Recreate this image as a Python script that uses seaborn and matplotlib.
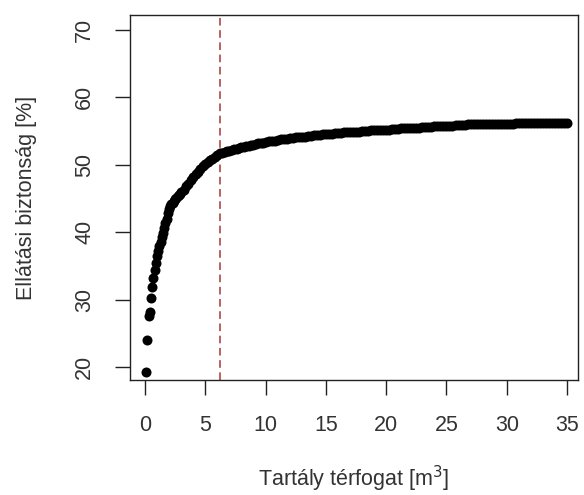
import numpy as np
import pandas as pd
import matplotlib
matplotlib.use("Agg")
import matplotlib.pyplot as plt
import seaborn as sns

# tank volume grid [m3] (three sampling steps) and supply security [%]
x_seg1 = np.round(np.arange(0.1, 3.01, 0.1), 2)     # 0.1 .. 3.0
x_seg2 = np.round(np.arange(3.2, 10.01, 0.2), 2)    # 3.2 .. 10.0
x_seg3 = np.round(np.arange(10.25, 35.01, 0.25), 2)  # 10.25 .. 35.0

y_seg1 = [19.3, 24.0, 27.6, 28.2, 30.2, 31.9, 33.2, 34.4, 35.5, 36.4,
          37.2, 37.9, 38.6, 39.3, 39.9, 40.6, 41.3, 42.0, 42.8, 43.4,
          43.9, 44.2, 44.4, 44.7, 44.9, 45.1, 45.3, 45.5, 45.7, 45.9]
y_seg2 = [46.3, 46.8, 47.2, 47.7, 48.2, 48.6, 49.0, 49.4, 49.8, 50.1,
          50.4, 50.7, 50.9, 51.2, 51.5, 51.7, 51.8, 51.9, 52.0, 52.1,
          52.2, 52.3, 52.4, 52.5, 52.6, 52.7, 52.8, 52.8, 52.9, 53.0,
          53.1, 53.2, 53.2, 53.3, 53.4]
y_seg3 = [53.5, 53.6, 53.6, 53.7, 53.8, 53.8, 53.9, 54.0, 54.0, 54.1,
          54.1, 54.2, 54.2, 54.3, 54.3, 54.4, 54.4, 54.4, 54.5, 54.5,
          54.6, 54.6, 54.7, 54.7, 54.7, 54.8, 54.8, 54.8, 54.9, 54.9,
          54.9, 55.0, 55.0, 55.0, 55.1, 55.1, 55.1, 55.2, 55.2, 55.2,
          55.2, 55.3, 55.3, 55.3, 55.4, 55.4, 55.4, 55.4, 55.5, 55.5,
          55.5, 55.6, 55.6, 55.6, 55.6, 55.7, 55.7, 55.7, 55.8, 55.8,
          55.8, 55.8, 55.9, 55.9, 55.9, 55.9, 56.0, 56.0, 56.0, 56.0,
          56.0, 56.0, 56.1, 56.1, 56.1, 56.1, 56.1, 56.1, 56.1, 56.1,
          56.1, 56.1, 56.2, 56.2, 56.2, 56.2, 56.2, 56.2, 56.2, 56.2,
          56.2, 56.2, 56.2, 56.2, 56.2, 56.2, 56.2, 56.2, 56.2, 56.2]

optimum_volume = 6.2
x_ticks = [0, 5, 10, 15, 20, 25, 30, 35]
y_ticks = [20, 30, 40, 50, 60, 70]

df = pd.DataFrame({
    "volume": np.concatenate([x_seg1, x_seg2, x_seg3]),
    "security": y_seg1 + y_seg2 + y_seg3,
})

sns.set_style("ticks")
plt.rcParams["font.family"] = ["Liberation Sans", "DejaVu Sans"]

fig = plt.figure(figsize=(5.84, 4.95), dpi=100)
ax = fig.add_axes([0.2226, 0.2323, 0.7676, 0.7374])

sns.scatterplot(data=df, x="volume", y="security", color="black",
                s=52, linewidth=0, ax=ax, zorder=3)
ax.axvline(optimum_volume, color="#a33a30", lw=1.1, dashes=(5, 3), zorder=2)

ax.set_xlim(-1.24, 35.93)
ax.set_ylim(18.07, 72.23)
ax.set_xticks(x_ticks)
ax.set_yticks(y_ticks)

for s in ax.spines.values():
    s.set_visible(True)
    s.set_color("#222222")
    s.set_linewidth(1.0)

ax.tick_params(axis="both", length=11, width=1.0, color="#222222",
               labelsize=15.5, labelcolor="#333333", pad=14)
ax.tick_params(axis="y", labelrotation=90)
for lab in ax.get_yticklabels():
    lab.set_verticalalignment("center")

ax.set_xlabel("Tartály térfogat [m$^3$]", fontsize=15.5, color="#333333", labelpad=20)
ax.set_ylabel("Ellátási biztonság [%]", fontsize=15.5, color="#333333", labelpad=27)

fig.savefig("out.png", dpi=100)
